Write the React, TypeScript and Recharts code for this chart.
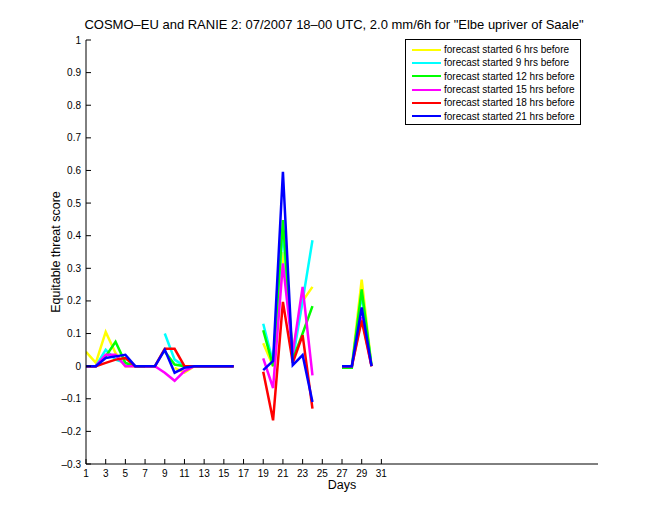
import React from "react";
import { LineChart, Line, XAxis, YAxis } from "recharts";

const days = Array.from({ length: 31 }, (_, i) => i + 1);
const seriesNames = [
  "forecast started 6 hrs before",
  "forecast started 9 hrs before",
  "forecast started 12 hrs before",
  "forecast started 15 hrs before",
  "forecast started 18 hrs before",
  "forecast started 21 hrs before",
];
const seriesColors = ["#FFFF00", "#00FFFF", "#00FF00", "#FF00FF", "#FF0000", "#0000FF"];

const fc6 = [0.044, 0.01, 0.105, 0.04, 0.0, 0, 0, null, null, -0.005, -0.02, 0, 0, 0, 0, 0, null, null, 0.07, 0.0, 0.35, 0.05, 0.2, 0.243, null, null, 0, 0, 0.265, 0, null];
const fc9 = [0, 0, 0.05, 0.02, 0.01, 0, 0, null, 0.1, 0.02, 0, 0, 0, 0, 0, 0, null, null, 0.13, 0.01, 0.42, 0.02, 0.2, 0.386, null, null, 0, 0, 0.22, 0, null];
const fc12 = [0, 0, 0.03, 0.075, 0.01, 0, 0, null, 0.045, 0.005, 0, 0, 0, 0, 0, 0, null, null, 0.11, 0.0, 0.448, 0.02, 0.1, 0.184, null, null, -0.005, -0.005, 0.235, 0, null];
const fc15 = [0, 0, 0.035, 0.035, 0.0, 0, 0, 0, -0.02, -0.045, -0.015, 0, 0, 0, 0, 0, null, null, 0.024, -0.067, 0.315, 0.04, 0.243, -0.028, null, null, 0, 0, 0.15, 0, null];
const fc18 = [0, 0, 0.01, 0.02, 0.025, 0, 0, 0, 0.053, 0.053, 0, 0, 0, 0, 0, 0, null, null, -0.017, -0.166, 0.197, 0.01, 0.095, -0.13, null, null, 0, 0, 0.14, 0, null];
const fc21 = [0, 0, 0.025, 0.03, 0.035, 0, 0, 0, 0.05, -0.02, -0.005, 0, 0, 0, 0, 0, null, null, -0.012, 0.016, 0.596, 0.003, 0.034, -0.11, null, null, 0, 0, 0.18, 0, null];

const seriesValues = [fc6, fc9, fc12, fc15, fc18, fc21];
const seriesKeys = ["s6", "s9", "s12", "s15", "s18", "s21"];

const xTicks = [1, 3, 5, 7, 9, 11, 13, 15, 17, 19, 21, 23, 25, 27, 29, 31];
const yTicks = [-0.3, -0.2, -0.1, 0, 0.1, 0.2, 0.3, 0.4, 0.5, 0.6, 0.7, 0.8, 0.9, 1];

const data = days.map((d, i) => {
  const row: Record<string, number | null> = { day: d };
  seriesKeys.forEach((k, j) => {
    row[k] = seriesValues[j][i];
  });
  return row;
});

const FONT = "'Liberation Sans', Arial, Helvetica, sans-serif";
const W = 660;
const H = 520;
const PL = 86;
const PR = 598;
const PT = 40;
const PB = 464;

const fmtY = (v: number) => {
  const r = Math.round(v * 10) / 10;
  if (r === 0) return "0";
  const s = Math.abs(r).toString();
  return r < 0 ? "\u2013" + s : s;
};

const YTick = (props: any) => {
  const { y, payload } = props;
  return (
    <g>
      <line x1={PL} x2={PL + 5} y1={y} y2={y} stroke="#000" strokeWidth={1} />
      <text x={PL - 5} y={y} dy={3.5} textAnchor="end" fontSize={10} fontFamily={FONT} fill="#000">
        {fmtY(payload.value)}
      </text>
    </g>
  );
};

const XTick = (props: any) => {
  const { x, payload } = props;
  return (
    <g>
      <line x1={x} x2={x} y1={PB} y2={PB - 5} stroke="#000" strokeWidth={1} />
      <text x={x} y={PB + 13} textAnchor="middle" fontSize={10} fontFamily={FONT} fill="#000">
        {payload.value}
      </text>
    </g>
  );
};

const LegendBox = () => (
  <div
    style={{
      position: "absolute",
      left: 405,
      top: 39,
      width: 176,
      height: 86,
      border: "1px solid #000",
      background: "#fff",
      boxSizing: "border-box",
      paddingTop: 3,
    }}
  >
    {seriesNames.map((n, i) => (
      <div key={n} style={{ display: "flex", alignItems: "center", height: 13.3 }}>
        <div style={{ width: 29, height: 2, background: seriesColors[i], marginLeft: 6, marginRight: 3 }} />
        <span style={{ fontSize: 10, fontFamily: FONT, color: "#000", whiteSpace: "nowrap", lineHeight: "13px" }}>{n}</span>
      </div>
    ))}
  </div>
);

export default function App() {
  return (
    <div style={{ position: "absolute", left: 0, top: 0, width: W, height: H, background: "#fff" }}>
      <div
        style={{
          position: "absolute",
          left: 0,
          width: W,
          top: 17,
          textAlign: "center",
          fontFamily: FONT,
          fontSize: 13,
          paddingLeft: 8,
          boxSizing: "border-box",
          color: "#000",
        }}
      >
        COSMO–EU and RANIE 2: 07/2007 18–00 UTC, 2.0 mm/6h for "Elbe upriver of Saale"
      </div>
      <LineChart
        width={W}
        height={H}
        data={data}
        margin={{ top: PT, right: W - PR, bottom: 0, left: 0 }}
      >
        <XAxis
          dataKey="day"
          type="number"
          domain={[1, 53]}
          ticks={xTicks}
          interval={0}
          tickLine={false}
          tick={<XTick />}
          axisLine={{ stroke: "#000" }}
          height={H - PB}
          allowDataOverflow
          label={{ value: "Days", position: "insideTop", offset: 16, fontSize: 12.5, fontFamily: FONT, fill: "#000" }}
        />
        <YAxis
          type="number"
          domain={[-0.3, 1]}
          ticks={yTicks}
          interval={0}
          tickLine={false}
          tick={<YTick />}
          axisLine={{ stroke: "#000" }}
          width={PL}
          allowDataOverflow
          label={{
            value: "Equitable threat score",
            angle: -90,
            position: "insideLeft",
            offset: 56,
            style: { textAnchor: "middle" },
            fontSize: 12.5,
            fontFamily: FONT,
            fill: "#000",
          }}
        />
        {seriesKeys.map((k, i) => (
          <Line
            key={k}
            dataKey={k}
            name={seriesNames[i]}
            stroke={seriesColors[i]}
            strokeWidth={2.5}
            dot={false}
            activeDot={false}
            connectNulls={false}
            isAnimationActive={false}
            type="linear"
          />
        ))}
      </LineChart>
      <LegendBox />
    </div>
  );
}
